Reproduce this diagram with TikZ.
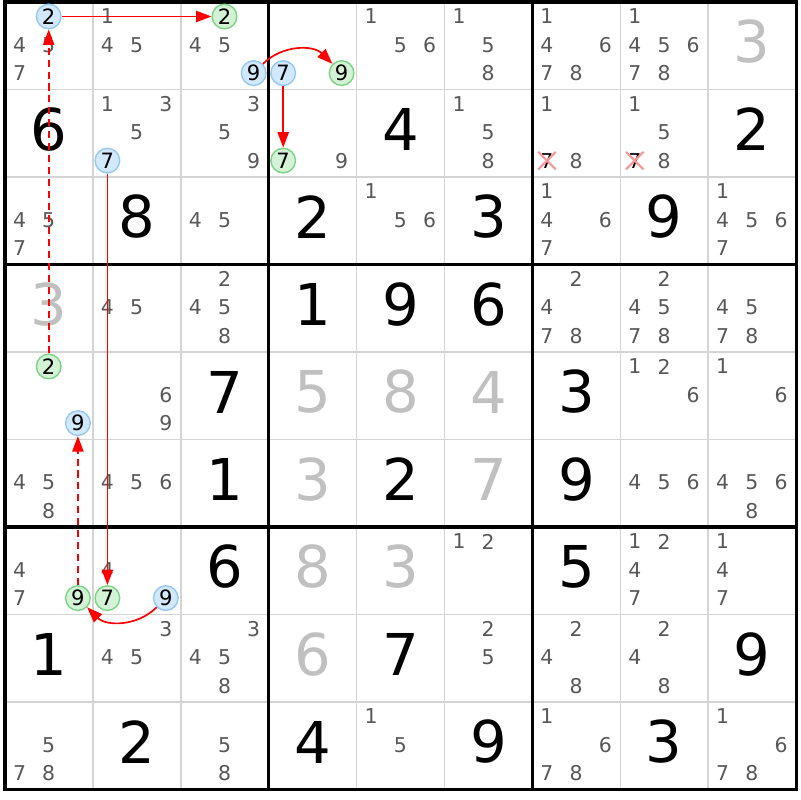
\documentclass[tikz,border=0pt]{standalone}
\usepackage{fontspec}
\setmainfont{DejaVu Sans}
\usetikzlibrary{arrows.meta,shapes.misc}

\definecolor{candgray}{RGB}{88,88,88}
\definecolor{solvedgray}{RGB}{192,192,192}
\definecolor{gridgray}{RGB}{212,212,212}
\definecolor{greenfill}{RGB}{212,242,214}
\definecolor{greendraw}{RGB}{122,212,132}
\definecolor{bluefill}{RGB}{210,232,252}
\definecolor{bluedraw}{RGB}{150,200,246}
\definecolor{crossred}{RGB}{246,150,150}
\definecolor{linkred}{RGB}{255,0,0}

\tikzset{
	given/.style={font=\fontsize{41}{41}\selectfont,text=black,inner sep=0pt},
	solved/.style={given,text=solvedgray},
	cand/.style={font=\fontsize{14.5}{14.5}\selectfont,text=candgray,inner sep=0pt},
	bluecand/.style={shape=circle,draw=bluedraw,fill=bluefill,line width=1pt,minimum size=17.5pt,inner sep=0pt,font=\fontsize{15}{15}\selectfont,text=black},
	greencand/.style={bluecand,draw=greendraw,fill=greenfill},
	elimcand/.style={cand,text=black,shape=cross out,draw=crossred,line width=1.5pt,minimum size=11pt},
	strongarrow/.style={draw=linkred,line width=1.2pt,-{Triangle[length=11pt,width=8pt,fill=linkred]}},
	weakarrow/.style={strongarrow,dash pattern=on 5pt off 3.5pt},
	thin line/.style={draw=gridgray,line width=1.1pt},
	box line/.style={draw=black,line width=2.2pt,line cap=rect}
}

\begin{document}
\begin{tikzpicture}[x=0.025cm,y=0.025cm]
	
	\fill[white] (0,0) rectangle (800,-800);
	\useasboundingbox (0,0) rectangle (800,-800);
	
	\foreach \i in {1,2,4,5,7,8} {
		\path[thin line] ({5+87.9*\i}, -2) -- ({5+87.9*\i}, -789.5);
		\path[thin line] (5, {-(2+87.5*\i)}) -- (796.1, {-(2+87.5*\i)});
	}
	\foreach \i in {0,3,6,9} {
		\path[box line] ({5+87.9*\i}, -2) -- ({5+87.9*\i}, -789.5);
		\path[box line] (5, {-(2+87.5*\i)}) -- (796.1, {-(2+87.5*\i)});
	}
	
	\foreach \r/\c/\d in {1/0/6, 1/4/4, 1/8/2, 2/1/8, 2/3/2, 2/5/3, 2/7/9, 3/3/1, 3/4/9, 3/5/6,
		4/2/7, 4/6/3, 5/2/1, 5/4/2, 5/6/9, 6/2/6, 6/6/5, 7/0/1, 7/4/7, 7/8/9,
		8/1/2, 8/3/4, 8/5/9, 8/7/3}
		\node[given] (g\r\c) at ({5+87.9*\c+44}, {-(2+87.5*\r+40)}) {\d};
	
	\foreach \r/\c/\d in {0/8/3, 3/0/3, 4/3/5, 4/4/8, 4/5/4, 5/3/3, 5/5/7, 6/3/8, 6/4/3, 7/3/6}
		\node[solved] (s\r\c) at ({5+87.9*\c+44}, {-(2+87.5*\r+40)}) {\d};
	
	\foreach \r/\c/\ds in {0/0/{4,5,7}, 0/1/{1,4,5}, 0/2/{4,5}, 0/4/{1,5,6}, 0/5/{1,5,8},
		0/6/{1,4,6,7,8}, 0/7/{1,4,5,6,7,8}, 1/1/{1,3,5}, 1/2/{3,5,9}, 1/3/{9},
		1/5/{1,5,8}, 1/6/{1,8}, 1/7/{1,5,8}, 2/0/{4,5,7}, 2/2/{4,5}, 2/4/{1,5,6},
		2/6/{1,4,6,7}, 2/8/{1,4,5,6,7}, 3/1/{4,5}, 3/2/{2,4,5,8}, 3/6/{2,4,7,8},
		3/7/{2,4,5,7,8}, 3/8/{4,5,7,8}, 4/1/{6,9}, 4/7/{1,2,6}, 4/8/{1,6},
		5/0/{4,5,8}, 5/1/{4,5,6}, 5/7/{4,5,6}, 5/8/{4,5,6,8}, 6/0/{4,7}, 6/1/{4},
		6/5/{1,2}, 6/7/{1,2,4,7}, 6/8/{1,4,7}, 7/1/{3,4,5}, 7/2/{3,4,5,8},
		7/5/{2,5}, 7/6/{2,4,8}, 7/7/{2,4,8}, 8/0/{5,7,8}, 8/2/{5,8}, 8/4/{1,5},
		8/6/{1,6,7,8}, 8/8/{1,6,7,8}}
		\foreach \d in \ds {
			\pgfmathtruncatemacro\k{mod(\d-1,3)}
			\pgfmathtruncatemacro\m{(\d-1)/3}
			\node[cand] (n\r\c\d) at ({5+87.9*\c+14.5+29.2*\k}, {-(2+87.5*\r+14.5+28.3*\m)}) {\d};
		}
	
	\foreach \r/\c/\d in {0/0/2, 0/2/9, 0/3/7, 1/1/7, 4/0/9, 6/1/9} {
		\pgfmathtruncatemacro\k{mod(\d-1,3)}
		\pgfmathtruncatemacro\m{(\d-1)/3}
		\node[bluecand] (n\r\c\d) at ({5+87.9*\c+14.5+29.2*\k}, {-(2+87.5*\r+14.5+28.3*\m)}) {\d};
	}
	\foreach \r/\c/\d in {0/2/2, 0/3/9, 1/3/7, 4/0/2, 6/0/9, 6/1/7} {
		\pgfmathtruncatemacro\k{mod(\d-1,3)}
		\pgfmathtruncatemacro\m{(\d-1)/3}
		\node[greencand] (n\r\c\d) at ({5+87.9*\c+14.5+29.2*\k}, {-(2+87.5*\r+14.5+28.3*\m)}) {\d};
	}
	\foreach \c in {6,7}
		\node[elimcand] (n1\c7) at ({5+87.9*\c+14.5}, {-(2+87.5+14.5+28.3*2)}) {7};
	
	\draw[strongarrow] (n002) -- (n022);
	\draw[strongarrow] (n029) to[bend left=45] (n039);
	\draw[strongarrow] (n037) -- (n137);
	\draw[strongarrow] (n117) -- (n617);
	\draw[strongarrow] (n619) to[bend left=45] (n609);
	\draw[weakarrow] (n609) -- (n409);
	\draw[weakarrow] (n402) -- (n002);
	
\end{tikzpicture}
\end{document}
